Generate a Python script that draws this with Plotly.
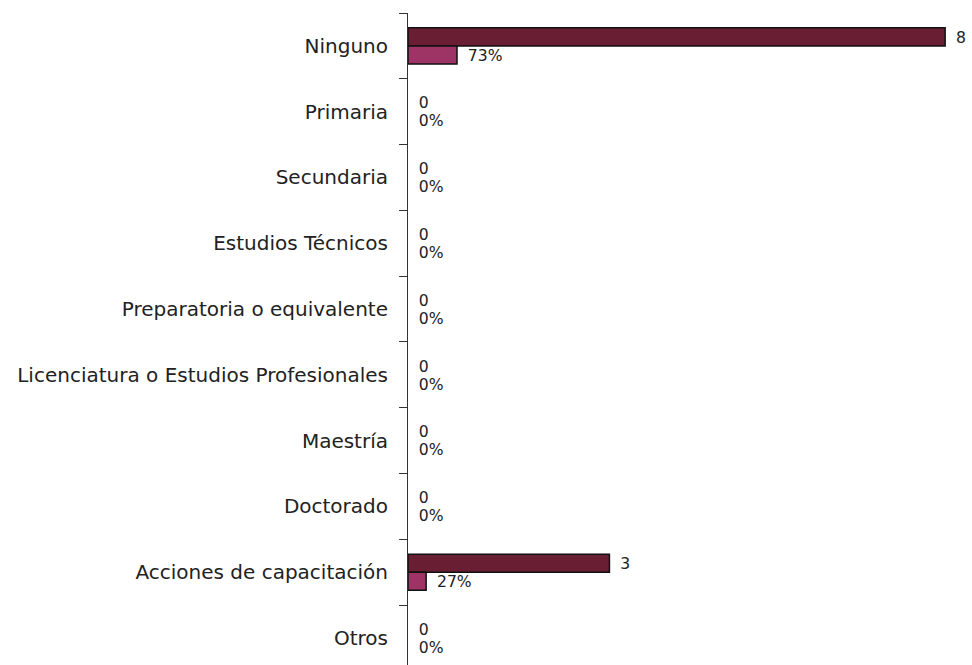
import plotly.graph_objects as go

categorias = [
    "Ninguno",
    "Primaria",
    "Secundaria",
    "Estudios Técnicos",
    "Preparatoria o equivalente",
    "Licenciatura o Estudios Profesionales",
    "Maestría",
    "Doctorado",
    "Acciones de capacitación",
    "Otros",
]
cantidad = [8, 0, 0, 0, 0, 0, 0, 0, 3, 0]
porcentaje = [0.73, 0, 0, 0, 0, 0, 0, 0, 0.27, 0]

# leading gap between each bar end and its label
HUECO = "\u2002"
etiquetas_cant = [f"{HUECO}{v}" for v in cantidad]
etiquetas_pct = [f"{HUECO}{round(p * 100)}%" for p in porcentaje]

# no outline on empty bars
borde_cant = [1.5 if v > 0 else 0 for v in cantidad]
borde_pct = [1.5 if v > 0 else 0 for v in porcentaje]

FUENTE = "DejaVu Sans, sans-serif"

fig = go.Figure()
fig.add_trace(go.Bar(
    y=categorias, x=cantidad, orientation="h",
    marker=dict(color="#6a1e33", line=dict(color="#111111", width=borde_cant)),
    text=etiquetas_cant, textposition="outside",
    textfont=dict(family=FUENTE, size=19, color="#222222"),
    cliponaxis=False, name="Cantidad",
))
fig.add_trace(go.Bar(
    y=categorias, x=porcentaje, orientation="h",
    marker=dict(color="#9d3465", line=dict(color="#111111", width=borde_pct)),
    text=etiquetas_pct, textposition="outside",
    textfont=dict(family=FUENTE, size=19, color="#222222"),
    cliponaxis=False, name="Porcentaje",
))

fig.update_layout(
    width=972, height=665,
    margin=dict(l=408, r=0, t=13, b=0),
    barmode="group", bargap=0.45, bargroupgap=0,
    showlegend=False,
    paper_bgcolor="white", plot_bgcolor="rgba(0,0,0,0)",
    font=dict(family=FUENTE, size=20, color="#222222"),
    xaxis=dict(range=[0, 8.4], visible=False, showgrid=False, zeroline=False),
    yaxis=dict(
        type="category", range=[9.41, -0.5],
        tickson="boundaries", ticks="outside", ticklen=8, tickcolor="#333333",
        ticklabelstandoff=15,
        showline=True, linecolor="#333333", linewidth=1,
        showgrid=False, zeroline=False,
        tickfont=dict(family=FUENTE, size=20, color="#222222"),
    ),
)

fig.write_html("out.html")
